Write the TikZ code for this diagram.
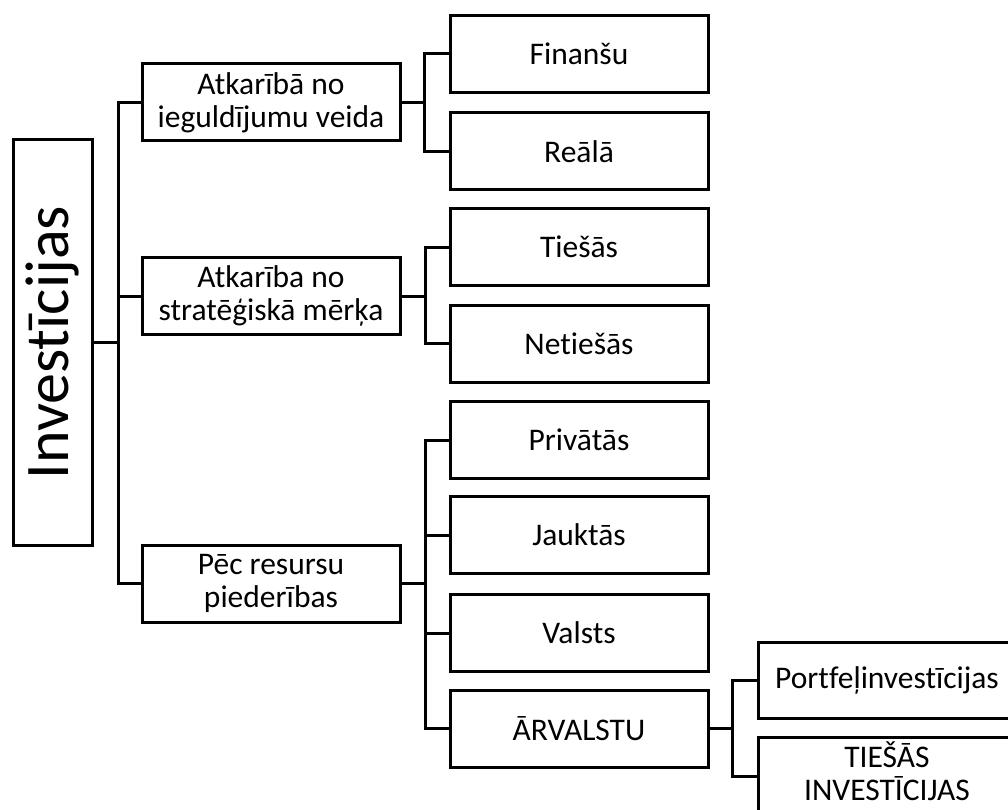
\documentclass[tikz,border=0pt]{standalone}
\usepackage{fontspec}
\setmainfont{Carlito}[Ligatures=NoCommon]
\begin{document}
\begin{tikzpicture}[x=1pt,y=-1pt,
  box/.style={draw=black,line width=3pt,fill=white,inner sep=0pt,align=center,
    font=\fontsize{31.5}{33}\selectfont},
  cbox/.style={box,minimum width=258pt,minimum height=77pt},
  conn/.style={draw=black,line width=3pt}]
\clip (0,0) rectangle (1008,810);
\fill[white] (0,0) rectangle (1008,810);
% root
\node[box,minimum width=79pt,minimum height=405pt] (inv) at (52.5,342.5)
  {\rotatebox{90}{\fontsize{62}{68}\selectfont Investīcijas}};
% level 1
\node[cbox] (a1) at (271,102.5) {Atkarībā no\\ieguldījumu veida};
\node[cbox] (a2) at (271,296) {Atkarība no\\stratēģiskā mērķa};
\node[cbox] (a3) at (271,583.5) {Pēc resursu\\piederības};
% level 2
\node[cbox] (fin) at (579,54) {Finanšu};
\node[cbox] (rea) at (579,151.5) {Reālā};
\node[cbox] (tie) at (579,247) {Tiešās};
\node[cbox] (net) at (579,343.5) {Netiešās};
\node[cbox] (pri) at (579,440) {Privātās};
\node[cbox] (jau) at (579,535) {Jauktās};
\node[cbox] (val) at (579,633) {Valsts};
\node[cbox] (arv) at (579,728.5) {ĀRVALSTU};
% level 3
\node[cbox,minimum height=76pt] (por) at (887,680) {Portfeļinvestīcijas};
\node[cbox,minimum height=78pt] (tin) at (887,776)
  {\raisebox{3pt}{\begin{tabular}{@{}c@{}}TIEŠĀS\\[-1pt]INVESTĪCIJAS\end{tabular}}};
% bracket coordinates
\coordinate (t0) at (118,0);
\coordinate (t1) at (424,0);
\coordinate (t2) at (425,0);
\coordinate (t3) at (425,0);
\coordinate (t4) at (732,0);
% connectors
\draw[conn] (a1.west) -| (t0 |- inv.east) -- (inv.east);
\draw[conn] (a3.west) -| (t0 |- inv.east);
\draw[conn] (a2.west) -- (t0 |- a2.west);
\draw[conn] (fin.west) -| (t1 |- a1.east) -- (a1.east);
\draw[conn] (rea.west) -| (t1 |- a1.east);
\draw[conn] (tie.west) -| (t2 |- a2.east) -- (a2.east);
\draw[conn] (net.west) -| (t2 |- a2.east);
\draw[conn] (pri.west) -| (t3 |- a3.east) -- (a3.east);
\draw[conn] (jau.west) -- (t3 |- jau.west);
\draw[conn] (val.west) -- (t3 |- val.west);
\draw[conn] (arv.west) -| (t3 |- a3.east);
\draw[conn] (por.west) -| (t4 |- arv.east) -- (arv.east);
\draw[conn] (tin.west) -| (t4 |- arv.east);
\end{tikzpicture}
\end{document}
